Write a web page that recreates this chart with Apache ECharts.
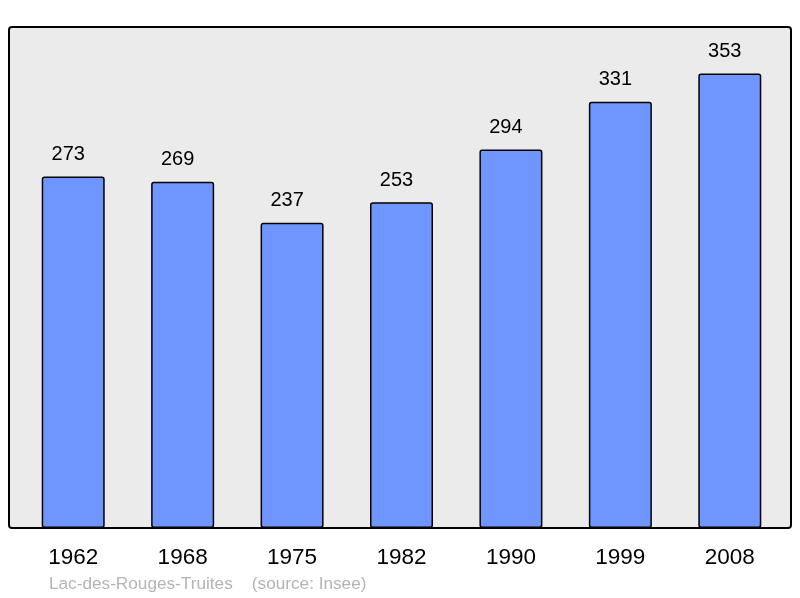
<!DOCTYPE html>
<html><head><meta charset="utf-8">
<script src="https://cdn.jsdelivr.net/npm/echarts@6/dist/echarts.min.js"></script>
<style>html,body{margin:0;padding:0;background:#fff}#c{width:800px;height:598px}</style>
</head><body><div id="c"></div>
<script>
const years = ['1962','1968','1975','1982','1990','1999','2008'];
const population = [273,269,237,253,294,331,353];
const sourceText = 'Lac-des-Rouges-Truites    (source: Insee)';

const chart = echarts.init(document.getElementById('c'), null, {renderer:'canvas'});
chart.setOption({
  animation:false,
  backgroundColor:'#ffffff',
  graphic:[
    {type:'rect', z:-10, shape:{x:9,y:27,width:782,height:501,r:3},
     style:{fill:'#ebebeb', stroke:'#000', lineWidth:2}},
    {type:'text', left:49, top:576, style:{text:sourceText, fill:'#b4b4b4', font:'17.2px "Liberation Sans", Arial, sans-serif'}}
  ],
  grid:{left:18.5, width:766, top:13, bottom:70, containLabel:false},
  xAxis:{type:'category', data:years,
    axisLine:{show:false}, axisTick:{show:false},
    axisLabel:{color:'#000', fontSize:22.5, fontFamily:'"Liberation Sans", Arial, sans-serif', margin:18}},
  yAxis:{type:'value', min:0, max:400, show:false, splitLine:{show:false}},
  series:[{type:'bar', data:population, barWidth:63,
    itemStyle:{color:'#6f96ff', borderColor:'#000', borderWidth:1.5, borderRadius:2},
    label:{show:true, position:'top', distance:12, offset:[-5,0], color:'#000', fontSize:20, fontFamily:'"Liberation Sans", Arial, sans-serif'}}]
});
</script></body></html>
